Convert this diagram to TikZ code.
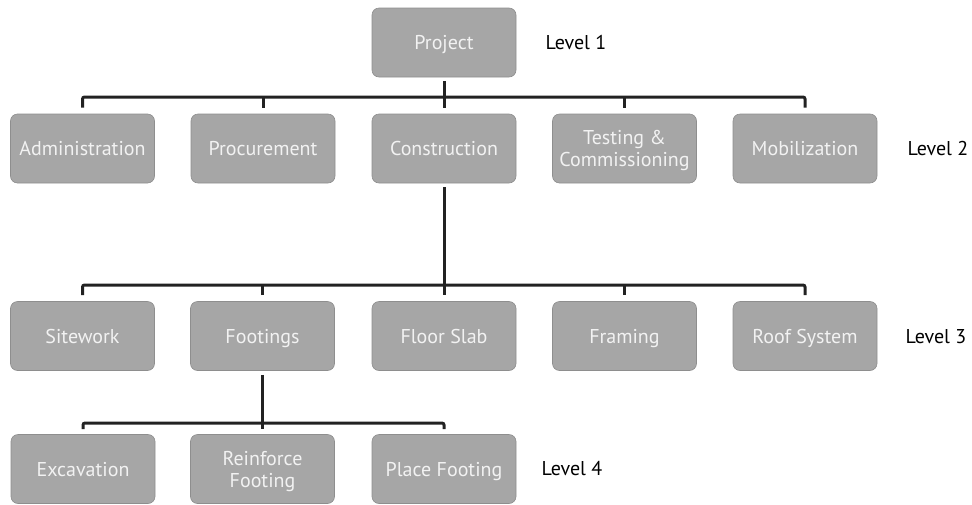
\documentclass[tikz,border=0pt]{standalone}
\usepackage{fontspec}
\setmainfont{PT Sans}
\usetikzlibrary{calc}
\definecolor{boxgrey}{HTML}{A6A6A6}
\definecolor{boxedge}{HTML}{8E8E8E}
\definecolor{boxtext}{HTML}{F2F2F2}
\definecolor{linecol}{HTML}{222222}
% struts of fixed size so that every label sits at the same height
\newcommand{\tstrut}{\rule{0pt}{19pt}}
\newcommand{\bstrut}{\rule[-5pt]{0pt}{5pt}}
\newcommand{\lstrut}{\tstrut\bstrut}
\tikzset{
  wbs/.style={draw=boxedge, line width=0.6pt, fill=boxgrey, rounded corners=7pt,
    minimum width=144pt, minimum height=69pt, text=boxtext, align=center,
    font=\fontsize{20pt}{22pt}\selectfont, inner sep=2pt},
  lvl/.style={text=black, font=\fontsize{20pt}{22pt}\selectfont, inner sep=0pt},
  conn/.style={draw=linecol, line width=3pt, rounded corners=2pt}
}
\begin{document}
\begin{tikzpicture}[x=1pt, y=-1pt]
\useasboundingbox (0,0) rectangle (972,504);
% level 1
\node[wbs] (proj) at (444,42.5) {\lstrut Project};
\node[lvl] (l1) at (576,42) {\lstrut Level 1};
% level 2
\node[wbs] (adm) at (82.5,148.5) {\lstrut Administration};
\node[wbs] (proc) at (263,148.5) {\lstrut Procurement};
\node[wbs] (con) at (444,148.5) {\lstrut Construction};
\node[wbs] (test) at (624.5,148.5) {\tstrut Testing \&\\\bstrut Commissioning};
\node[wbs] (mob) at (805,148.5) {\lstrut Mobilization};
\node[lvl] (l2) at (938,148) {\lstrut Level 2};
% level 3
\node[wbs] (site) at (82.5,336) {\lstrut Sitework};
\node[wbs] (foot) at (262.5,336) {\lstrut Footings};
\node[wbs] (slab) at (444,336) {\lstrut Floor Slab};
\node[wbs] (fram) at (624.5,336) {\lstrut Framing};
\node[wbs] (roof) at (805,336) {\lstrut Roof System};
\node[lvl] (l3) at (936,336) {\lstrut Level 3};
% level 4
\node[wbs] (exc) at (83,469) {\lstrut Excavation};
\node[wbs] (rein) at (262.5,469) {\tstrut Reinforce\\\bstrut Footing};
\node[wbs] (place) at (444,469) {\lstrut Place Footing};
\node[lvl] (l4) at (572,468) {\lstrut Level 4};
% bar heights
\coordinate (b2) at (444,97);
\coordinate (b3) at (444,285);
\coordinate (b4) at (262.5,423);
% project -> level 2
\draw[conn] ($(adm.north)+(0,-6)$) |- (b2) -| ($(mob.north)+(0,-6)$);
\draw[conn, rounded corners=0pt] ($(proj.south)+(0,4)$) -- ($(con.north)+(0,-6)$);
\draw[conn, rounded corners=0pt] ($(proc.north)+(0,-6)$) -- (proc.north |- b2);
\draw[conn, rounded corners=0pt] ($(test.north)+(0,-6)$) -- (test.north |- b2);
% construction -> level 3
\draw[conn] ($(site.north)+(0,-6)$) |- (b3) -| ($(roof.north)+(0,-6)$);
\draw[conn, rounded corners=0pt] ($(con.south)+(0,4)$) -- ($(slab.north)+(0,-6)$);
\draw[conn, rounded corners=0pt] ($(foot.north)+(0,-6)$) -- (foot.north |- b3);
\draw[conn, rounded corners=0pt] ($(fram.north)+(0,-6)$) -- (fram.north |- b3);
% footings -> level 4
\draw[conn] ($(exc.north)+(0,-5)$) |- (b4) -| ($(place.north)+(0,-5)$);
\draw[conn, rounded corners=0pt] ($(foot.south)+(0,4)$) -- ($(rein.north)+(0,-5)$);
\end{tikzpicture}
\end{document}
